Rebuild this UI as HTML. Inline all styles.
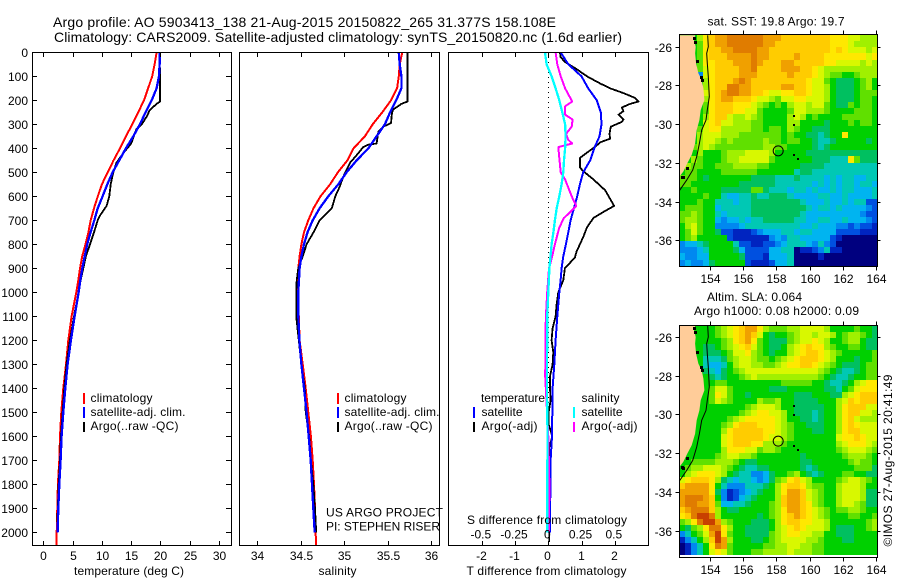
<!DOCTYPE html>
<html>
<head>
<meta charset="utf-8">
<title>Argo profile</title>
<style>
html,body{margin:0;padding:0;background:#fff}
svg{display:block}
text{font-family:"Liberation Sans",sans-serif;font-size:12px;fill:#000}
.t14{font-size:14px}
</style>
</head>
<body>
<svg id="chart" xmlns="http://www.w3.org/2000/svg" width="900" height="580" viewBox="0 0 900 580">
<rect x="0" y="0" width="900" height="580" fill="#fff"/>
<text class="t14" x="53" y="27" textLength="503" lengthAdjust="spacing">Argo profile: AO 5903413_138 21-Aug-2015 20150822_265 31.377S 158.108E</text>
<text class="t14" x="54" y="42" textLength="568" lengthAdjust="spacing">Climatology: CARS2009. Satellite-adjusted climatology: synTS_20150820.nc (1.6d earlier)</text>
<g id="marks"></g>
<g id="axes"></g>

<g>
<rect x="83" y="393" width="2" height="11" fill="#f00"/>
<rect x="83" y="407" width="2" height="11" fill="#00f"/>
<rect x="83" y="422" width="2" height="10" fill="#000"/>
<text x="90.5" y="402" textLength="62">climatology</text>
<text x="90.5" y="416" textLength="95">satellite-adj. clim.</text>
<text x="90.5" y="430" textLength="88">Argo(..raw -QC)</text>
</g>
<g>
<rect x="337" y="393" width="2" height="11" fill="#f00"/>
<rect x="337" y="407" width="2" height="11" fill="#00f"/>
<rect x="337" y="422" width="2" height="10" fill="#000"/>
<text x="344.5" y="402" textLength="62">climatology</text>
<text x="344.5" y="416" textLength="95">satellite-adj. clim.</text>
<text x="344.5" y="430" textLength="88">Argo(..raw -QC)</text>
<text x="326" y="516.5" textLength="117">US ARGO PROJECT</text>
<text x="326" y="530.5" textLength="114">PI: STEPHEN RISER</text>
</g>
<g>
<rect x="473" y="407" width="2" height="11" fill="#00f"/>
<rect x="473" y="422" width="2" height="10" fill="#000"/>
<rect x="573" y="407" width="2" height="11" fill="#0ff"/>
<rect x="573" y="422" width="2" height="10" fill="#f0f"/>
<text x="481" y="402" textLength="64">temperature</text>
<text x="481.5" y="416" textLength="41">satellite</text>
<text x="481.5" y="430" textLength="56">Argo(-adj)</text>
<text x="581.5" y="402" textLength="38">salinity</text>
<text x="581.5" y="416" textLength="41">satellite</text>
<text x="581.5" y="430" textLength="56">Argo(-adj)</text>
<text x="467" y="524" textLength="160">S difference from climatology</text>
</g>
<text x="74" y="575" textLength="110">temperature (deg C)</text>
<text x="318.5" y="575" textLength="38">salinity</text>
<text x="466.5" y="575" textLength="160">T difference from climatology</text>

<g id="maps"></g>
<text x="707.5" y="25.5" textLength="137">sat. SST: 19.8 Argo: 19.7</text>
<text x="707" y="301" textLength="95">Altim. SLA: 0.064</text>
<text x="694" y="315" textLength="165">Argo h1000: 0.08 h2000: 0.09</text>
<text transform="translate(892 546.5) rotate(-90)" x="0" y="0" textLength="172">©IMOS 27-Aug-2015 20:41:49</text>
</svg>

<script>
// ---------- Profile data ----------
const redTempDepth = [0,50,100,150,200,250,300,350,400,450,500,550,600,650,700,750,800,850,900,950,1000,1100,1200,1300,1400,1500,1600,1700,1800,1900,2000,2054];
const redTemp = [19.35,19.0,18.6,17.9,17.2,16.2,15.2,14.1,13.1,12.0,11.0,10.0,9.3,8.65,8.1,7.7,7.2,6.65,6.26,5.98,5.63,4.84,4.27,3.87,3.41,3.07,2.85,2.73,2.5,2.39,2.28,2.28];
const blueTempDepth = [0,50,100,150,200,250,300,350,400,450,500,550,600,650,700,750,800,850,900,950,1000,1100,1200,1300,1400,1500,1600,1700,1800,1900,2000];
const blueTemp = [19.86,19.86,19.75,19.35,18.5,17.47,16.5,15.37,14.1,12.98,11.84,10.93,10.13,9.28,8.7,8.08,7.5,7.06,6.66,6.32,6.03,5.35,4.72,4.15,3.76,3.41,3.13,2.96,2.73,2.56,2.45];
const blackTempDepth = [0,100,150,205,215,240,270,300,320,380,420,460,500,550,600,640,680,700,750,800,850,900,950,1000,1100,1200,1300,1400,1500,1600,1700,1800,1900,1950,2000];
const blackTemp = [19.86,19.92,19.92,19.92,19.35,18.2,17.6,16.8,15.9,15,13.66,12.5,11.95,11.5,11.27,10.8,9.68,9.28,8.65,7.97,7.28,6.83,6.37,6.03,5.24,4.55,3.98,3.58,3.3,3.0,2.85,2.62,2.5,2.39,2.39];

const redSalDepth = [0,50,100,150,200,250,300,350,400,450,500,550,600,650,700,750,800,850,900,1000,1100,1200,1300,1400,1500,1600,1700,1800,1900,2000,2054];
const redSal = [35.67,35.64,35.63,35.61,35.54,35.44,35.33,35.24,35.11,35.04,34.93,34.84,34.73,34.65,34.59,34.54,34.51,34.49,34.475,34.46,34.48,34.49,34.525,34.56,34.59,34.62,34.64,34.655,34.667,34.674,34.68];
const blueSalDepth = [0,50,100,150,200,250,300,350,400,450,500,550,600,650,700,750,800,850,900,1000,1100,1200,1300,1400,1500,1600,1700,1800,1900,2000];
const blueSal = [35.63,35.64,35.66,35.66,35.6,35.53,35.47,35.375,35.28,35.146,35.03,34.935,34.82,34.72,34.64,34.58,34.54,34.51,34.49,34.475,34.475,34.487,34.51,34.54,34.57,34.594,34.617,34.632,34.647,34.663];
const blackSalDepth = [0,100,205,215,240,260,295,310,330,380,385,395,420,460,520,560,600,650,700,750,800,850,900,950,1000,1100,1200,1300,1400,1500,1600,1700,1800,1900,2000];
const blackSal = [35.73,35.73,35.73,35.66,35.56,35.55,35.54,35.45,35.395,35.375,35.28,35.22,35.165,35.07,34.99,34.95,34.9,34.86,34.72,34.65,34.57,34.525,34.475,34.456,34.45,34.45,34.48,34.51,34.55,34.56,34.6,34.62,34.647,34.667,34.68];

const argoTDiffDepth = [0,20,40,70,100,130,150,170,190,205,215,230,245,260,280,290,310,340,360,375,390,440,480,495,530,575,640,665,690,730,770,830,855,900,950,1000,1050,1100,1150,1200,1250,1300,1350,1400,1450,1500,1550,1600,1650,1800,2000,2040];
const argoTDiff = [0.35,0.37,0.5,0.85,1.16,1.56,1.86,2.26,2.61,2.71,2.46,2.21,2.26,2.11,2.26,2.21,1.88,1.84,1.86,1.56,1.44,0.95,0.95,1.05,1.36,1.71,1.98,1.66,1.36,1.16,1.05,0.85,0.8,0.5,0.45,0.3,0.25,0.22,0.13,0.1,0.15,0.13,0.05,0.05,0.07,0.01,0.01,0.12,0.02,0.03,0.03,0.03];
const satTDiffDepth = [0,50,100,150,200,250,300,350,400,450,500,550,600,650,700,750,800,850,900,950,1000,1050,1100,1200,1300,1400,1500,1600,1700,1800,1900,2000];
const satTDiff = [0.37,0.6,1.0,1.2,1.46,1.58,1.6,1.54,1.38,1.26,1.05,0.95,0.87,0.77,0.67,0.6,0.53,0.45,0.4,0.37,0.33,0.3,0.27,0.22,0.18,0.13,0.12,0.11,0.07,0.07,0.05,0.05];
const argoSDiffDepth = [0,50,100,150,205,225,260,280,310,340,365,380,395,440,500,530,600,640,660,690,730,800,860,900,1000,1100,1150,1350,1600,1800,2000];
const argoSDiff = [0.055,0.068,0.093,0.126,0.18,0.126,0.126,0.183,0.176,0.133,0.15,0.18,0.075,0.083,0.093,0.126,0.176,0.21,0.176,0.118,0.083,0.05,0.025,0.005,-0.008,-0.018,-0.02,-0.023,0,0.008,0.005];
const satSDiffDepth = [0,50,100,150,200,250,300,350,400,450,500,550,600,650,700,750,800,900,1000,1100,1200,1300,1400,1500,1600,1800,2000];
const satSDiff = [-0.025,-0.013,0.025,0.055,0.083,0.105,0.126,0.13,0.126,0.118,0.113,0.1,0.083,0.063,0.05,0.038,0.025,0.008,0,-0.008,-0.008,-0.01,-0.01,-0.008,-0.005,-0.008,-0.008];

// ---------- Tick labels ----------
const depthTicks = [0,100,200,300,400,500,600,700,800,900,1000,1100,1200,1300,1400,1500,1600,1700,1800,1900,2000];
const tempTicks = [0,5,10,15,20,25,30];
const salTicks = [34,34.5,35,35.5,36];
const tDiffTicks = [-2,-1,0,1,2];
const sDiffTicks = [-0.5,-0.25,0,0.25,0.5];
const lonTicks = [154,156,158,160,162,164];
const latTicks = [-26,-28,-30,-32,-34,-36];

// ---------- Map data ----------
const palette = {a:'#00007f',b:'#0024c0',c:'#0050e0',d:'#0088f0',e:'#00b4f0',f:'#00c8b4',g:'#00c060',h:'#00d000',i:'#60e000',j:'#a0f000',k:'#d8f800',l:'#ffe800',m:'#ffcc00',n:'#f0a000',o:'#e07c00',p:'#c84000'};
const sstRows = [
"hhhjl mnnoo oooon nnmmm mmmmm lllkk jjj",
"hhhil mnnoo oooon nmmmm mmmmm lllkj jjj",
"hhhil mmnno ooonn mmmmm mmmmm lmlkk kjk",
"hhhil mmmnn nnonn mmmmn mmmml lllll lkl",
"hhhil lmmmn nnonm mmnnm mmmml lkkkk jkj",
"hhhik lmmmm nnomm mmnnn mmlkj jjjjj jjj",
"hhhdk lmmmm nnnmm mmmnm mmlkj iihhi jjj",
"hhhhj lmmmn onmmm mmmmm mlkki hgggh ijh",
"hhhhj lmmoo nnmmm mmnnm mlkkj hgggh ijh",
"hhhhk lmnoo nnmml kkllm mlkkj hgggh iii",
"hhhhj lmnnm mmlkk jikkl lkkkj hgggh iih",
"hhhhi lmmml llkji hihjk kjkki hggih iih",
"hhhhi lmmml lkkih hhhik kjjji hhhhi iih",
"hhhhj lmmkj jkjih hhhjk jhihh hhiii iih",
"hhhhk lmkkj jjiih hhhjj hhhhg hhhih iih",
"hhhik lljjj jjiih iihji hhggg hhhhh hhh",
"hhhjk kkjjj iiiii iihih hggfg hhlhh hhh",
"hhhjk kjiji iiiij iihii hhgff ghhhh hgh",
"hhijk jiiii iiiij jiihh hhgfg hhhhh hhh",
"hhhjh hhijj jkkkk jhhhh hgggg ggggg ggg",
"hhjih hhijj kkkkk ihhhh hhggg fffli ggg",
"hjiih hiiij jjjii hhhhh ggggf fffff fff",
"hiihh hhiii iiihh hhhhf ggfff fffff fff",
"iiihg hhhhh hhggg gfffg ffffe feffe eff",
"iihhh hhhhh ggggg gffff ffefe feffe ffe",
"hhihh hhggg ggiig fffef fefee feffe eef",
"hhhhi hhfee ffgff gggfe eeeff eefee eef",
"hhhih hfffe ffggg ggggg feeef eefef fcc",
"hiiih hefff ffggg ggggg gfeff efeee edc",
"iijih hfeff ffggg ggggg feeee eeeee dcc",
"ijjih hedee feffg ggggf feeff eefee edc",
"hjkih hdddd effff fffff eefee eddcd ccb",
"hikih hgccb bbcde eeffe ffeee ecccc bbb",
"hijhh hhhcb bbbbb dedff eeeee cbaaa aaa",
"deefg hhhhf ccbbc cdeff fedfd caaaa aaa",
"dddef hhhhg ecccc eeffa bbcdf bbaaa aaa",
"eddee hhhhh gcccb eeefa aaaba aaaaa aaa",
"dedde ghhhh hcbbb ceefa aaaaa aaaaa aaa"
];
const slaRows = [
"hhhhh hijkl mnnlj iiijj kkkkj hhhhi hhg",
"hhhhh hijkl mnmkh ghhij kkjkk jhijj ihg",
"hhhhh hhijl mnlih gggij kklkj hhijj hgg",
"hhhhg ghijk lmkih gghjk lmllj ihhii hgg",
"hhhhg gghik kljih ghhjk lmmlk jihhh hhi",
"hhhhf ffgij kkjii hijkl mmmlk jhhhg hhi",
"hhhhf eefhj kkjji ijkll mmlkj ihggg hii",
"hhhhg feghi jkkkk kkkkk kkkji hgffg hii",
"hhhhh gfghh ijkjj jjjjj jjjih gffgh hii",
"hhhhh hiihh hhhhh hhiii iihhg ffghj kll",
"hhhhh ikkih hhhhh ggghh hhhhg gfhik lll",
"hhhhh ilkih hghhh hhhhg gghhh ggjkl mmm",
"hhhhh ikjih hhhji ijhhg ggghh hjkml mmm",
"hhhhh hhhhh hijkk kjhhg ggggh hjlmm mkk",
"hhhhh hhhhh ijkll kkjhg ggfgh hjlmm kkj",
"hhhhh hhhij kllll lkjhh ggfgh hjlmk jjj",
"hhhhh hhijl mmmll lkjih hgggh hjlml kkk",
"hhhhh hhjlm mmmml lkjih hhggh hjlmm kkk",
"hhhhh hhklm mmmml kkjih hhhhh hkllm lkk",
"hhhhh hhklm mmllj jjihh hhhhh hjkll lkj",
"hhhhh hhjll lkkij jihhh hhhhh hijkk kji",
"hhhhh hijkk jjihh hhhhh ghhhh hhijj jih",
"hhiii ijjji hgghh hhhhh gghhh hhhij iih",
"hijjk kkjih gffgg hhhhh gfghh hhhhi iig",
"hjkll lkjhg ffdde ghhij hgfgh hhiih hgg",
"klmmm ljgfe ffede gijlm kjhhh hijkk jih",
"mnnnn lhfdd dfffg hjlmm ljiih hjkkk jhh",
"nnnnn lgdbc defgh hjlnn mkjih hjkkk jgg",
"nooon mhdbc efghh hjmnn mkjih hjkkk jgg",
"noonn mieef fghhh ijmnn mljih hjkkj igg",
"mnooo mjhgg hhhhh ijlnn mlkji hiijj ihh",
"lmopp ojhhh hhhgh ijlmn mlkji hhhii hhi",
"ijlop pnjih hhggg hjlmm llkkj hhhhh hij",
"hgijl ooljh hgggg hjklm lkkkj hgggh hij",
"dfhik nplih hgggg ijkll kkjjh hgggh hhh",
"bdfhj mpnjh hhggh ijkkk kjjih hhggh hhh",
"abdfh lonih hhhhi ijjkk jjiih hhhhh hhh",
"abdfh klkih hhiij jjjkj jjiih hhhhh hhh"
];
const coastLon = [153.10,153.04,153.14,153.10,153.16,153.30,153.50,153.60,153.66,153.44,153.36,153.20,153.10,152.90,152.63,152.39,152.15];
const coastLat = [-25.41,-25.66,-26,-26.34,-26.86,-27.38,-27.72,-28.15,-28.75,-29.27,-29.79,-30.30,-30.99,-31.59,-32.02,-32.45,-32.71];
const shelfLon = [153.86,153.90,153.80,153.84,153.90,153.96,153.84,153.76,153.50,153.36,153.20,152.96,152.59,152.15];
const shelfLat = [-25.41,-26,-26.34,-26.86,-27.55,-28.58,-29.27,-29.79,-30.30,-30.99,-31.68,-32.37,-32.89,-33.44];
const speckLon = [153.0,153.05,153.15,153.42,153.45,152.55,152.25,152.3];
const speckLat = [-25.5,-25.7,-26.7,-27.5,-27.65,-32.2,-32.65,-32.7];
const islandLon = [159.02,159.0,159.03,159.24];
const islandLat = [-29.53,-30.0,-31.55,-31.77];
const profileLon = 158.108;
const profileLat = -31.377;

// ---------- Scales ----------
const NS = 'http://www.w3.org/2000/svg';
const TOP = 52, BOTTOM = 545;
const yDepth = d => 52.3 + d * 0.24;
const xTemp = v => 43.3 + v * 5.857;
const xSal = v => 257 + (v - 34) * 87;
const xTD = v => 548.3 + v * 33.25;
const xSD = v => 548.3 + v * 133;
const xLon = v => 710 + (v - 154) * 16.6;
const yLatTop = v => 46.7 + (-26 - v) * 19.37;
const yLatBot = v => 337 + (-26 - v) * 19.37;
const LON_MIN = 152.15, LON_MAX = 164.1, LAT_MAX = -25.41, LAT_MIN_TOP = -37.3, LAT_MIN_BOT = -37.28;

const marks = document.getElementById('marks');
const axes = document.getElementById('axes');
const maps = document.getElementById('maps');

function make(parent, tag, attrs) {
  const el = document.createElementNS(NS, tag);
  for (const k in attrs) el.setAttribute(k, attrs[k]);
  parent.appendChild(el);
  return el;
}
function drawLine(xs, depths, xf, color, name, width) {
  const pts = xs.map((v, i) => xf(v).toFixed(1) + ',' + yDepth(depths[i]).toFixed(1)).join(' ');
  const el = make(marks, 'polyline', {points: pts, fill: 'none', stroke: color, 'stroke-width': width, 'stroke-linejoin': 'round', 'shape-rendering': 'crispEdges'});
  
  
}
function label(parent, txt, x, y, anchor, name) {
  const el = make(parent, 'text', {x: x, y: y, 'text-anchor': anchor});
  el.textContent = txt;
  
  
  return el;
}
function tick(parent, x1, y1, x2, y2, name) {
  const el = make(parent, 'line', {x1: x1, y1: y1, x2: x2, y2: y2, stroke: '#000', 'stroke-width': 1, 'shape-rendering': 'crispEdges'});
  
  
}
function frame(parent, x, y, w, h, name) {
  const el = make(parent, 'rect', {x: x, y: y, width: w, height: h, fill: 'none', stroke: '#000', 'stroke-width': 1, 'shape-rendering': 'crispEdges'});
  
  
}

// ---------- Profile lines ----------
drawLine(redTemp, redTempDepth, xTemp, '#f00', 'temperature-climatology-line', 2);
drawLine(blackTemp, blackTempDepth, xTemp, '#000', 'temperature-argo-line', 1.8);
drawLine(blueTemp, blueTempDepth, xTemp, '#00f', 'temperature-satellite-line', 2.3);
drawLine(redSal, redSalDepth, xSal, '#f00', 'salinity-climatology-line', 2);
drawLine(blackSal, blackSalDepth, xSal, '#000', 'salinity-argo-line', 1.8);
drawLine(blueSal, blueSalDepth, xSal, '#00f', 'salinity-satellite-line', 2.3);

const zeroLine = make(marks, 'line', {x1: xTD(0), y1: TOP, x2: xTD(0), y2: BOTTOM, stroke: '#000', 'stroke-width': 1, 'stroke-dasharray': '1 4', 'shape-rendering': 'crispEdges'});


drawLine(argoTDiff, argoTDiffDepth, xTD, '#000', 't-diff-argo-line', 1.8);
drawLine(satTDiff, satTDiffDepth, xTD, '#00f', 't-diff-satellite-line', 2);
drawLine(argoSDiff, argoSDiffDepth, xSD, '#f0f', 's-diff-argo-line', 2);
drawLine(satSDiff, satSDiffDepth, xSD, '#0ff', 's-diff-satellite-line', 2.3);

// ---------- Profile axes ----------
frame(axes, 32.5, TOP + 0.5, 199, BOTTOM - TOP, 'temperature-panel-frame');
frame(axes, 239.5, TOP + 0.5, 200, BOTTOM - TOP, 'salinity-panel-frame');
frame(axes, 448.5, TOP + 0.5, 200, BOTTOM - TOP, 'difference-panel-frame');
depthTicks.forEach(d => {
  const y = Math.round(yDepth(d)) + 0.5;
  tick(axes, 32, y, 37, y, 'depth-tick-left');
  tick(axes, 226, y, 231, y, 'depth-tick-right');
  label(axes, String(d), 28, y + 4.5, 'end', 'depth-tick-label');
});
tempTicks.forEach(v => {
  const x = Math.round(xTemp(v)) + 0.5;
  tick(axes, x, TOP, x, TOP + 5, 'temperature-tick-top');
  tick(axes, x, BOTTOM + 1, x, BOTTOM - 4, 'temperature-tick-bottom');
  label(axes, String(v), x, 560, 'middle', 'temperature-tick-label');
});
salTicks.forEach(v => {
  const x = Math.round(xSal(v)) + 0.5;
  tick(axes, x, TOP, x, TOP + 5, 'salinity-tick-top');
  tick(axes, x, BOTTOM + 1, x, BOTTOM - 4, 'salinity-tick-bottom');
  label(axes, String(v), x, 560, 'middle', 'salinity-tick-label');
});
tDiffTicks.forEach(v => {
  const x = Math.round(xTD(v)) + 0.5;
  tick(axes, x, TOP, x, TOP + 5, 't-difference-tick-top');
  tick(axes, x, BOTTOM + 1, x, BOTTOM - 4, 't-difference-tick-bottom');
  label(axes, String(v), x - 1, 560, 'middle', 't-difference-tick-label');
});
sDiffTicks.forEach(v => {
  label(axes, String(v), xSD(v) - 1, 538.5, 'middle', 's-difference-tick-label');
});

// ---------- Maps ----------
function drawMap(rows, yLat, latMin, name) {
  const clean = rows.map(r => r.replace(/ /g, ''));
  const nRows = clean.length, nCols = clean[0].length;
  const dLon = (LON_MAX - LON_MIN) / nCols, dLat = (LAT_MAX - latMin) / nRows;
  const g = make(maps, 'g', {'shape-rendering': 'crispEdges'});
  
  
  clean.forEach((row, j) => {
    for (let i = 0; i < nCols; i++) {
      const x0 = Math.round(xLon(LON_MIN + i * dLon)), x1 = Math.round(xLon(LON_MIN + (i + 1) * dLon));
      const y0 = Math.round(yLat(LAT_MAX - j * dLat)), y1 = Math.round(yLat(LAT_MAX - (j + 1) * dLat));
      const cell = make(g, 'rect', {x: x0, y: y0, width: x1 - x0, height: y1 - y0, fill: palette[row[i]]});
      
      
    }
  });
  const x0 = xLon(LON_MIN), y0 = yLat(LAT_MAX);
  const coastPts = coastLon.map((v, i) => xLon(v).toFixed(1) + ',' + yLat(coastLat[i]).toFixed(1)).join(' ');
  const land = make(maps, 'polygon', {points: x0 + ',' + y0 + ' ' + coastPts, fill: '#ffcc99', stroke: 'none'});
  
  
  speckLon.forEach((v, i) => {
    const sp = make(maps, 'rect', {x: Math.round(xLon(v)), y: Math.round(yLat(speckLat[i])), width: 3, height: 3, fill: '#000', 'shape-rendering': 'crispEdges'});
    
    
  });
  const shelf = make(maps, 'polyline', {points: shelfLon.map((v, i) => xLon(v).toFixed(1) + ',' + yLat(shelfLat[i]).toFixed(1)).join(' '), fill: 'none', stroke: '#000', 'stroke-width': 1});
  
  
  islandLon.forEach((v, i) => {
    const isl = make(maps, 'rect', {x: Math.round(xLon(v)), y: Math.round(yLat(islandLat[i])), width: 2, height: 2, fill: '#000', 'shape-rendering': 'crispEdges'});
    
    
  });
  const marker = make(maps, 'circle', {cx: xLon(profileLon), cy: yLat(profileLat), r: 5, fill: 'none', stroke: '#000', 'stroke-width': 1});
  
  
  const fx = 679.5, fy = Math.round(y0) - 0.5, fw = 198, fh = 232;
  frame(maps, fx, fy, fw, fh, name + '-frame');
  lonTicks.forEach(v => {
    const x = Math.round(xLon(v)) + 0.5;
    tick(maps, x, fy, x, fy - 4, name + '-lon-tick-top');
    tick(maps, x, fy + fh, x, fy + fh + 4, name + '-lon-tick-bottom');
    label(maps, String(v), x, fy + fh + 16.5, 'middle', name + '-lon-label');
  });
  latTicks.forEach(v => {
    const y = Math.round(yLat(v)) + 0.5;
    tick(maps, fx, y, fx - 4, y, name + '-lat-tick-left');
    tick(maps, fx + fw, y, fx + fw + 3, y, name + '-lat-tick-right');
    label(maps, String(v), 672, y + 4.5, 'end', name + '-lat-label');
  });
}
drawMap(sstRows, yLatTop, LAT_MIN_TOP, 'sst-map');
drawMap(slaRows, yLatBot, LAT_MIN_BOT, 'sla-map');
</script>
</body>
</html>
